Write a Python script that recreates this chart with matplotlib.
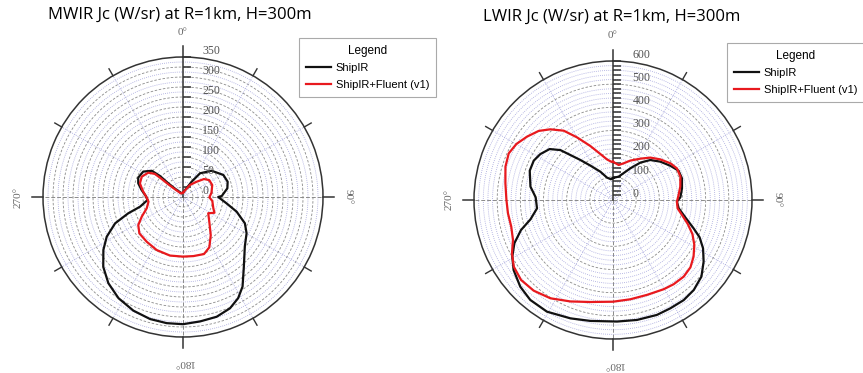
import numpy as np
import matplotlib
matplotlib.use("Agg")
import matplotlib.pyplot as plt

# ---- data (angle deg clockwise from north, W/sr) ----
mw_ang_black = [0, 29.5, 35.7, 47.4, 61.4, 71.1, 78.9, 88.5, 90, 98.3, 105.3, 113,
                119.7, 128.7, 138.8, 146.4, 151.4, 157.1, 164.3, 172.2, 180, 187.4,
                195.1, 203.6, 212.5, 220.9, 228.8, 236.4, 242.5, 248.8, 253.4, 257.3,
                265.2, 271.5, 279.6, 287, 293.4, 302.6, 310, 312.4, 313, 317.9, 340]
mw_black = [11, 44, 73, 97, 115, 118, 113, 97, 88, 110, 139, 168, 183, 198, 231, 269,
            288, 302, 311, 314, 318, 318, 316, 310, 300, 285, 265, 239, 215, 182, 143,
            110, 89, 93, 105, 117, 122, 118, 102, 78, 50, 24, 10]
mw_ang_red = [0, 30.3, 41.7, 49.4, 57.2, 67.7, 81.4, 90.7, 97.8, 110.5, 116.6, 122.8,
              133.1, 144, 152.4, 159.8, 170, 180, 192.5, 206.4, 219, 230.2, 237.9,
              244.6, 252.7, 262.3, 270.5, 278.9, 287.6, 296.2, 305, 309.4, 310.2,
              310.8, 315, 331]
mw_red = [11, 35, 51, 69, 78, 79, 72, 66, 74, 81, 88, 75, 90, 118, 142, 152, 150, 149,
          150, 148, 144, 142, 132, 114, 95, 87, 92, 102, 113, 115, 106, 91, 70, 48, 25, 10]

lw_ang_black = [0, 13.7, 28.7, 36.2, 43, 51, 59.1, 65.9, 72.6, 80.4, 87.7, 91.5, 97.2,
                103.5, 109.4, 113.3, 118.2, 124.2, 130.9, 138.1, 144.8, 152.1, 159.1,
                168.7, 178.1, 190.6, 199.8, 210.6, 219.6, 226.9, 234.8, 240.6, 246.3,
                251.9, 256.8, 263.7, 272, 279.2, 289.4, 296.4, 302.3, 308.8, 313.5,
                316.5, 320.8, 326.6, 335.9, 345, 354.3]
lw_black = [95, 104, 156, 200, 236, 263, 288, 310, 312, 302, 291, 276, 286, 321, 369,
            407, 441, 473, 505, 522, 529, 529, 531, 528, 525, 531, 543, 560, 560, 548,
            525, 499, 465, 418, 366, 330, 334, 361, 381, 382, 371, 351, 313, 268, 223,
            178, 134, 100, 90]
lw_ang_red = [0, 9.2, 16.2, 23.8, 33.5, 41.4, 49.3, 57.4, 63.7, 70.9, 78.8, 85.6, 91.5,
              97.3, 102.3, 107.8, 113.2, 118.9, 125.1, 131, 137.3, 144.3, 150.4, 160.3,
              170.1, 180, 192.5, 202.8, 212.5, 221.2, 229, 236.1, 242.2, 248.2, 255.3,
              262.8, 270, 278.8, 287.2, 294.1, 300.1, 306.4, 312.9, 318.4, 324.6,
              330.1, 337.2, 344.6, 351.6, 357]
lw_red = [165, 153, 165, 186, 214, 244, 269, 294, 308, 308, 296, 284, 276, 281, 305,
          339, 373, 401, 425, 443, 450, 448, 443, 435, 435, 439, 451, 475, 503, 520,
          526, 516, 493, 465, 454, 457, 460, 470, 486, 493, 482, 461, 438, 408, 367,
          312, 253, 206, 177, 166]

labels = ["ShipIR", "ShipIR+Fluent (v1)"]
BLACK, RED = "#111111", "#e8191e"
GRID_DASH, GRID_DOT, AX = "#8a8a8a", "#a3a3dc", "#333333"
SERIF = "Liberation Serif"

fig = plt.figure(figsize=(8.63, 3.73), dpi=100)
W, H = 863.0, 373.0


def polar_panel(cx, cy, R, rmax, step, dash_every, tick_step, lab_step,
                curves, title, title_xy, leg_xy):
    ax = fig.add_axes([(cx - R) / W, (H - cy - R) / H, 2 * R / W, 2 * R / H],
                      projection="polar")
    ax.set_theta_zero_location("N")
    ax.set_theta_direction(-1)
    ax.set_ylim(0, rmax)
    ax.set_xticks([])
    ax.set_yticks([])
    ax.grid(False)
    ax.spines["polar"].set_color(AX)
    ax.spines["polar"].set_linewidth(1.1)
    ax.patch.set_alpha(0)
    th = np.linspace(0, 2 * np.pi, 400)
    # circular grid
    for r in np.arange(step, rmax, step):
        if round(r / dash_every, 6) == round(r / dash_every):
            ax.plot(th, np.full_like(th, r), color=GRID_DASH, lw=0.6,
                    ls=(0, (3, 2)))
        else:
            ax.plot(th, np.full_like(th, r), color=GRID_DOT, lw=0.6,
                    ls=(0, (1, 1.5)))
    # radial grid every 30 deg
    for a in range(30, 360, 30):
        if a in (90, 180, 270):
            continue
        ax.plot([np.radians(a)] * 2, [0, rmax], color=GRID_DOT, lw=0.6,
                ls=(0, (1, 1.5)))
    ext = rmax * (1 + 11.0 / R)
    # dashed axes inside
    for a in (90, 180, 270):
        ax.plot([np.radians(a)] * 2, [0, rmax], color=GRID_DASH, lw=0.7,
                ls=(0, (4, 2)))
    # solid stubs outside, and the radial axis
    for a in (90, 180, 270):
        ax.plot([np.radians(a)] * 2, [rmax, ext], color=AX, lw=1.1,
                clip_on=False)
    ax.plot([0, 0], [0, ext], color=AX, lw=1.1, clip_on=False)
    for a in range(30, 360, 30):
        if a % 90:
            ax.plot([np.radians(a)] * 2, [rmax, rmax * (1 + 8.0 / R)],
                    color=AX, lw=1.0, clip_on=False)
    # radial ticks and labels
    tv = np.arange(tick_step, rmax + 0.1, tick_step)
    ax.plot(np.zeros_like(tv), tv, ls="none", marker=1, markersize=5.5,
            mew=1.1, color=AX, clip_on=False)
    for v in np.arange(0, rmax + 0.1, lab_step):
        ax.annotate(f"{int(v)}", (0, v), xytext=(14, 4.5),
                    textcoords="offset points", ha="left", va="center",
                    fontsize=8.6, family=SERIF, color="#555555",
                    annotation_clip=False)
    # angle labels
    rl = rmax * (1 + 25.0 / R)
    for a, rot in ((0, 0), (90, -90), (180, 180), (270, 90)):
        ax.text(np.radians(a), rl, f"{a}\u00b0", rotation=rot, ha="center",
                va="center", fontsize=8, family=SERIF, color="#666666",
                rotation_mode="anchor")
    lines = []
    for (ang, val), col in zip(curves, (BLACK, RED)):
        a = np.radians(list(ang) + [ang[0]])
        v = list(val) + [val[0]]
        ln, = ax.plot(a, v, color=col, lw=1.6)
        lines.append(ln)
    fig.text(title_xy[0] / W, 1 - title_xy[1] / H, title, family="Open Sans",
             fontsize=12, ha="left", va="center")
    leg = fig.legend(lines, labels, title="Legend", loc="upper left",
                     bbox_to_anchor=(leg_xy[0] / W, 1 - leg_xy[1] / H),
                     fancybox=False, edgecolor="#aaaaaa", framealpha=1,
                     prop={"family": "Liberation Sans", "size": 8},
                     title_fontproperties={"family": "Liberation Sans",
                                           "size": 8.5},
                     handlelength=2.3, handletextpad=0.4, labelspacing=0.6,
                     borderpad=0.6, borderaxespad=0)
    leg.get_frame().set_linewidth(0.8)
    return ax


polar_panel(183, 197, 140, 350, 12.5, 25, 25, 50,
            [(mw_ang_black, mw_black), (mw_ang_red, mw_red)],
            "MWIR Jc (W/sr) at R=1km, H=300m", (48, 15), (299, 38))
polar_panel(613, 200, 139, 600, 20, 100, 20, 100,
            [(lw_ang_black, lw_black), (lw_ang_red, lw_red)],
            "LWIR Jc (W/sr) at R=1km, H=300m", (483, 17), (727, 43))

fig.savefig("out.png", dpi=100)
